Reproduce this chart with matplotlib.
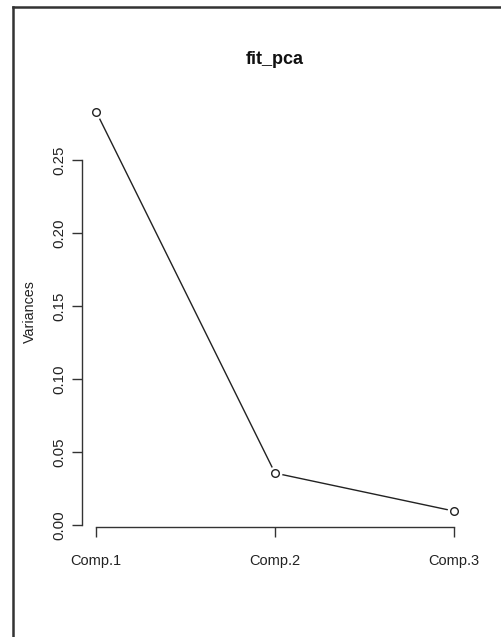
import matplotlib.pyplot as plt
from matplotlib.lines import Line2D

components = ['Comp.1', 'Comp.2', 'Comp.3']
variances = [0.283, 0.0356, 0.0096]
y_ticks = [0.00, 0.05, 0.10, 0.15, 0.20, 0.25]
y_tick_labels = ['0.00', '0.05', '0.10', '0.15', '0.20', '0.25']

plt.rcParams['font.family'] = ['Liberation Sans', 'DejaVu Sans']

fig = plt.figure(figsize=(5.02, 6.37), dpi=100)
ax = fig.add_axes([0.1633, 0.1727, 0.769, 0.6766])

x = list(range(1, len(components) + 1))
ax.plot(x, variances, color='#222222', lw=1.0, zorder=1)
# white mask so the line stops short of the points (R type="b")
ax.plot(x, variances, ls='none', marker='o', ms=10, mfc='white', mec='none', zorder=2)
ax.plot(x, variances, ls='none', marker='o', ms=5.5, mfc='white', mec='#222222', mew=1.0, zorder=3)

# R-style 4% padding
span = max(variances) - min(variances)
ax.set_xlim(1 - 0.08, len(components) + 0.08)
ax.set_ylim(min(variances) - 0.04 * span, max(variances) + 0.04 * span)

ax.set_xticks(x)
ax.set_xticklabels(components, fontsize=10.5)
ax.set_yticks(y_ticks)
ax.set_yticklabels(y_tick_labels, fontsize=10.8, rotation=90, va='center')
ax.tick_params(axis='both', direction='out', length=7, width=1, color='#333333', labelcolor='#222222')
ax.tick_params(axis='x', pad=12.5)
ax.tick_params(axis='y', pad=4)

for s in ['top', 'right']:
    ax.spines[s].set_visible(False)
ax.spines['left'].set_bounds(y_ticks[0], y_ticks[-1])
ax.spines['bottom'].set_bounds(x[0], x[-1])
for s in ['left', 'bottom']:
    ax.spines[s].set_color('#333333')
    ax.spines[s].set_linewidth(1.0)

ax.set_ylabel('Variances', fontsize=10.3, color='#222222', labelpad=11)
ax.set_title('fit_pca', fontsize=13, fontweight='bold', pad=23, color='#111111')

# outer frame (top and left edges)
fig.add_artist(Line2D([13 / 502, 1.0], [1 - 7 / 637, 1 - 7 / 637], color='#333333', lw=1.8, transform=fig.transFigure))
fig.add_artist(Line2D([13 / 502, 13 / 502], [0.0, 1 - 7 / 637], color='#333333', lw=1.8, transform=fig.transFigure))

plt.savefig('out.png', dpi=100)
